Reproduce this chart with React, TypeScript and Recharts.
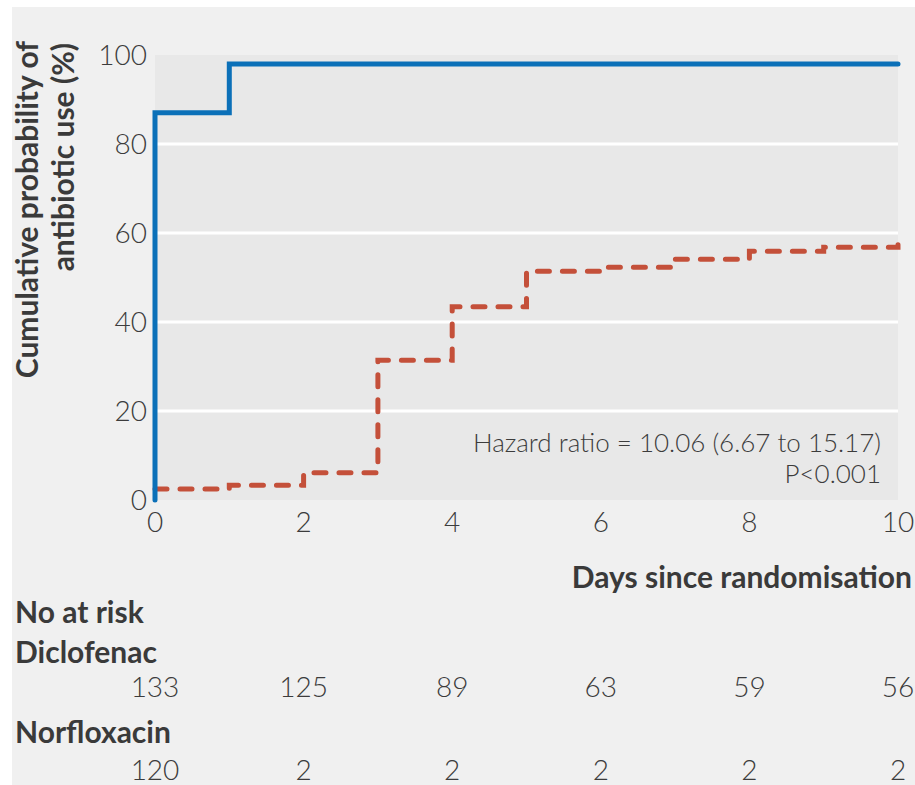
import { LineChart, Line, XAxis, YAxis, CartesianGrid, Customized } from 'recharts';

// number at risk, read every 2 days
const riskDays = [0, 2, 4, 6, 8, 10];
const atRiskDiclofenac = [133, 125, 89, 63, 59, 56];
const atRiskNorfloxacin = [120, 2, 2, 2, 2, 2];

// Kaplan-Meier step points (days, cumulative %)
const norfloxacinDays = [0, 0, 1, 10];
const norfloxacinPct = [0, 87, 98, 98];

const diclofenacDays = [0, 1, 2, 3, 4, 5, 6, 7, 8, 9, 10];
const diclofenacPct = [2.5, 3.3, 6.1, 31.4, 43.4, 51.4, 52.3, 54.1, 55.9, 56.8, 58.5];

const xTicks = [0, 2, 4, 6, 8, 10];
const innerTicks = [2, 4, 6, 8];
const yTicks = [0, 20, 40, 60, 80, 100];
const gridValues = [20, 40, 60, 80];

const BLUE = '#0b70b8';
const RED = '#c4503a';
const FONT = 'Lato, "Open Sans", sans-serif';
const TICK = { fontFamily: FONT, fontSize: 28, fontWeight: 300, fill: '#3c3c3c' };
const BOLD = { fontFamily: FONT, fontSize: 30, fontWeight: 700, fill: '#3a3a3a' };

const norfloxacin = norfloxacinDays.map((t, i) => ({ t, pct: norfloxacinPct[i] }));
const diclofenac = diclofenacDays.map((t, i) => ({ t, pct: diclofenacPct[i] }));
const riskTable = riskDays.map((t, i) => ({
  t,
  diclofenac: atRiskDiclofenac[i],
  norfloxacin: atRiskNorfloxacin[i],
}));

const riskAt = (counts: number[]) => (v: number) => {
  const i = riskDays.indexOf(v);
  return i >= 0 ? String(counts[i]) : '';
};

function YTitle() {
  return (
    <g style={BOLD as any}>
      <text transform="translate(38,41) rotate(-90)" textAnchor="end">
        Cumulative probability of
      </text>
      <text transform="translate(74,43) rotate(-90)" textAnchor="end">
        antibiotic use (%)
      </text>
    </g>
  );
}

function Annotations() {
  return (
    <g>
      <g style={{ fontFamily: FONT, fontSize: 26, fontWeight: 300, fill: '#3c3c3c' }}>
        <text x={881} y={452} textAnchor="end">
          Hazard ratio = 10.06 (6.67 to 15.17)
        </text>
        <text x={881} y={483} textAnchor="end">
          P&lt;0.001
        </text>
      </g>
      <g style={BOLD as any}>
        <text x={912} y={588} textAnchor="end">
          Days since randomisation
        </text>
        <text x={15} y={623}>No at risk</text>
        <text x={15} y={663}>Diclofenac</text>
        <text x={15} y={743}>Norfloxacin</text>
      </g>
    </g>
  );
}

export default function App() {
  return (
    <div style={{ position: 'absolute', left: 0, top: 0, width: 915, height: 785, background: '#fff' }}>
      <div style={{ position: 'absolute', left: 12, top: 7, right: 0, bottom: 0, background: '#f0f0f0' }} />
      <LineChart
        width={915}
        height={785}
        data={riskTable}
        margin={{ top: 55, right: 17, bottom: 0, left: 95 }}
        style={{ position: 'absolute', left: 0, top: 0 }}
      >
        <CartesianGrid
          vertical={false}
          horizontalValues={gridValues}
          stroke="#fff"
          strokeWidth={3}
          fill="#e8e8e8"
        />
        {/* short white marks inside the plot at the inner day ticks */}
        <XAxis
          xAxisId="a0_marks"
          dataKey="t"
          type="number"
          domain={[0, 10]}
          ticks={innerTicks}
          interval={0}
          height={0}
          axisLine={false}
          tickLine={{ stroke: '#fff', strokeWidth: 3 }}
          tickSize={-5}
          tick={false}
        />
        {/* stacked bottom axes: days, then the two at-risk rows */}
        <XAxis
          xAxisId="a_days"
          dataKey="t"
          type="number"
          domain={[0, 10]}
          ticks={xTicks}
          interval={0}
          height={95}
          axisLine={false}
          tickLine={false}
          tickSize={-5}
          tickMargin={17}
          tick={TICK}
        />
        <XAxis
          xAxisId="b_diclofenac"
          dataKey="t"
          type="number"
          domain={[0, 10]}
          ticks={riskDays}
          interval={0}
          height={110}
          axisLine={false}
          tickLine={false}
          tickSize={0}
          tickMargin={82}
          tick={TICK}
          tickFormatter={riskAt(atRiskDiclofenac)}
        />
        <XAxis
          xAxisId="c_norfloxacin"
          dataKey="t"
          type="number"
          domain={[0, 10]}
          ticks={riskDays}
          interval={0}
          height={80}
          axisLine={false}
          tickLine={false}
          tickSize={0}
          tickMargin={55}
          tick={TICK}
          tickFormatter={riskAt(atRiskNorfloxacin)}
        />
        <YAxis
          type="number"
          domain={[0, 100]}
          ticks={yTicks}
          interval={0}
          width={60}
          axisLine={false}
          tickLine={false}
          tick={TICK}
        />
        <Line
          xAxisId="a_days"
          data={diclofenac}
          dataKey="pct"
          type="stepAfter"
          stroke={RED}
          strokeWidth={5}
          strokeDasharray="12 13"
          strokeLinecap="round"
          dot={false}
          isAnimationActive={false}
        />
        <Line
          xAxisId="a_days"
          data={norfloxacin}
          dataKey="pct"
          type="stepAfter"
          stroke={BLUE}
          strokeWidth={5}
          strokeLinecap="round"
          dot={false}
          isAnimationActive={false}
        />
        <Customized component={YTitle} />
        <Customized component={Annotations} />
      </LineChart>
    </div>
  );
}
